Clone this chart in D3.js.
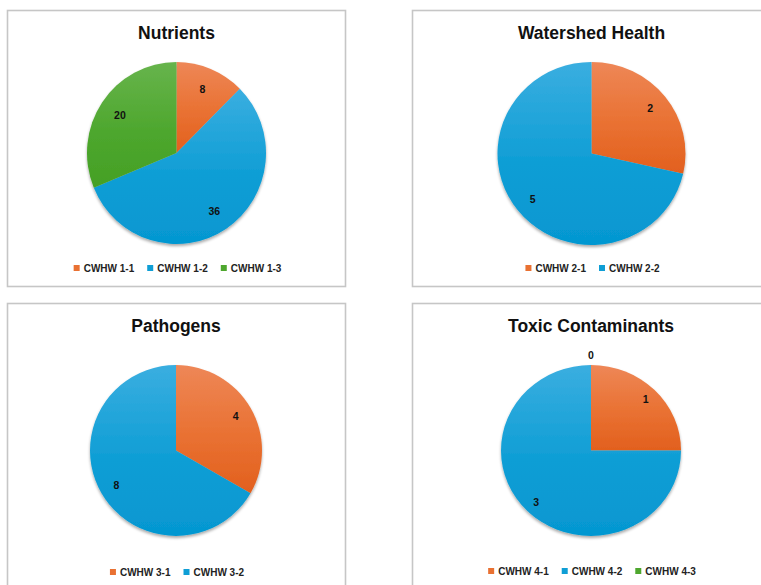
<!DOCTYPE html>
<html>
<head>
<meta charset="utf-8">
<script src="https://cdn.jsdelivr.net/npm/d3@7"></script>
<style>
  html, body { margin: 0; padding: 0; background: #fff; }
  svg { display: block; }
  text { font-family: "Liberation Sans", Arial, sans-serif; }
</style>
</head>
<body>
<svg id="chart" width="761" height="585"></svg>
<script>
// ---- data ----
const chartTitles = ["Nutrients", "Watershed Health", "Pathogens", "Toxic Contaminants"];

const nutrientsCategories = ["CWHW 1-1", "CWHW 1-2", "CWHW 1-3"];
const nutrientsValues = [8, 36, 20];

const watershedCategories = ["CWHW 2-1", "CWHW 2-2"];
const watershedValues = [2, 5];

const pathogensCategories = ["CWHW 3-1", "CWHW 3-2"];
const pathogensValues = [4, 8];

const toxicCategories = ["CWHW 4-1", "CWHW 4-2", "CWHW 4-3"];
const toxicValues = [1, 3, 0];

const seriesColors = ["#E97132", "#0F9ED5", "#4EA72E"];
const seriesTop = ["#EE8757", "#3AAEE0", "#67B44C"];
const seriesBottom = ["#E2601E", "#0597D1", "#44A025"];

// ---- layout ----
const panels = [
  { box: [7.5, 10.5, 338, 276], cx: 176.5, cy: 153, rx: 89.5, ry: 91, legendY: 268, labelK: 0.76, cats: nutrientsCategories, vals: nutrientsValues },
  { box: [412.5, 10.5, 360, 276], cx: 591.5, cy: 153.5, rx: 94, ry: 91.5, legendY: 268, labelK: 0.8, cats: watershedCategories, vals: watershedValues },
  { box: [7.5, 303.5, 338, 300], cx: 176, cy: 450.5, rx: 86, ry: 85.5, legendY: 572, labelK: 0.8, cats: pathogensCategories, vals: pathogensValues },
  { box: [412.5, 303.5, 360, 300], cx: 591, cy: 450.5, rx: 90, ry: 85.5, legendY: 571, labelK: 0.86, cats: toxicCategories, vals: toxicValues }
];

const svg = d3.select("#chart");
const defs = svg.append("defs");

const shadow = defs.append("filter").attr("id", "pieShadow")
  .attr("x", "-20%").attr("y", "-20%").attr("width", "140%").attr("height", "140%");
shadow.append("feGaussianBlur").attr("in", "SourceAlpha").attr("stdDeviation", 1.6).attr("result", "blur");
shadow.append("feOffset").attr("in", "blur").attr("dx", 0).attr("dy", 1.5).attr("result", "off");
shadow.append("feComponentTransfer").attr("in", "off").attr("result", "soft")
  .append("feFuncA").attr("type", "linear").attr("slope", 0.35);
const merge = shadow.append("feMerge");
merge.append("feMergeNode").attr("in", "soft");
merge.append("feMergeNode").attr("in", "SourceGraphic");

seriesColors.forEach((c, i) => {
  const g = defs.append("linearGradient").attr("id", "grad" + i)
    .attr("x1", 0).attr("y1", 0).attr("x2", 0).attr("y2", 1);
  g.append("stop").attr("offset", "0%").attr("stop-color", seriesTop[i]);
  g.append("stop").attr("offset", "55%").attr("stop-color", c);
  g.append("stop").attr("offset", "100%").attr("stop-color", seriesBottom[i]);
});

const pie = d3.pie().sort(null).value(d => d);

panels.forEach((p, pi) => {
  const [bx, by, bw, bh] = p.box;
  const g = svg.append("g");

  g.append("rect")
    .attr("x", bx).attr("y", by).attr("width", bw).attr("height", bh)
    .attr("fill", "#fff").attr("stroke", "#c6c6c6").attr("stroke-width", 1.6);

  g.append("text")
    .attr("x", p.cx).attr("y", by + 28)
    .attr("text-anchor", "middle")
    .attr("font-size", 17.5).attr("font-weight", "bold").attr("fill", "#111")
    .text(chartTitles[pi]);

  const arcs = pie(p.vals);
  const r = p.ry;
  const arc = d3.arc().innerRadius(0).outerRadius(r);

  const pieG = g.append("g")
    .attr("transform", `translate(${p.cx},${p.cy}) scale(${p.rx / p.ry},1)`)
    .attr("filter", "url(#pieShadow)");

  pieG.selectAll("path").data(arcs).enter().append("path")
    .attr("d", arc)
    .attr("fill", (d, i) => `url(#grad${i})`);

  // data labels
  g.selectAll("text.lbl").data(arcs).enter().append("text")
    .attr("class", "lbl")
    .attr("x", d => {
      const a = (d.startAngle + d.endAngle) / 2;
      const k = d.data === 0 ? 1.0 : p.labelK;
      return p.cx + p.rx * k * Math.sin(a);
    })
    .attr("y", d => {
      const a = (d.startAngle + d.endAngle) / 2;
      if (d.data === 0) return p.cy - p.ry - 6;
      return p.cy - p.ry * p.labelK * Math.cos(a) + 4;
    })
    .attr("text-anchor", "middle")
    .attr("font-size", 10.5).attr("font-weight", "bold").attr("fill", "#111")
    .text(d => d.data);

  // legend
  const leg = g.append("g");
  let xPos = 0;
  p.cats.forEach((c, i) => {
    const item = leg.append("g").attr("transform", `translate(${xPos},0)`);
    item.append("rect").attr("x", 0).attr("y", -3).attr("width", 6).attr("height", 6)
      .attr("fill", seriesColors[i]);
    const t = item.append("text").attr("x", 10).attr("y", 3.5)
      .attr("font-size", 10).attr("font-weight", "bold").attr("fill", "#222")
      .text(c);
    xPos += 10 + t.node().getComputedTextLength() + 13;
  });
  const legW = xPos - 13;
  leg.attr("transform", `translate(${p.cx - legW / 2 + 1},${p.legendY})`);
});
</script>
</body>
</html>
